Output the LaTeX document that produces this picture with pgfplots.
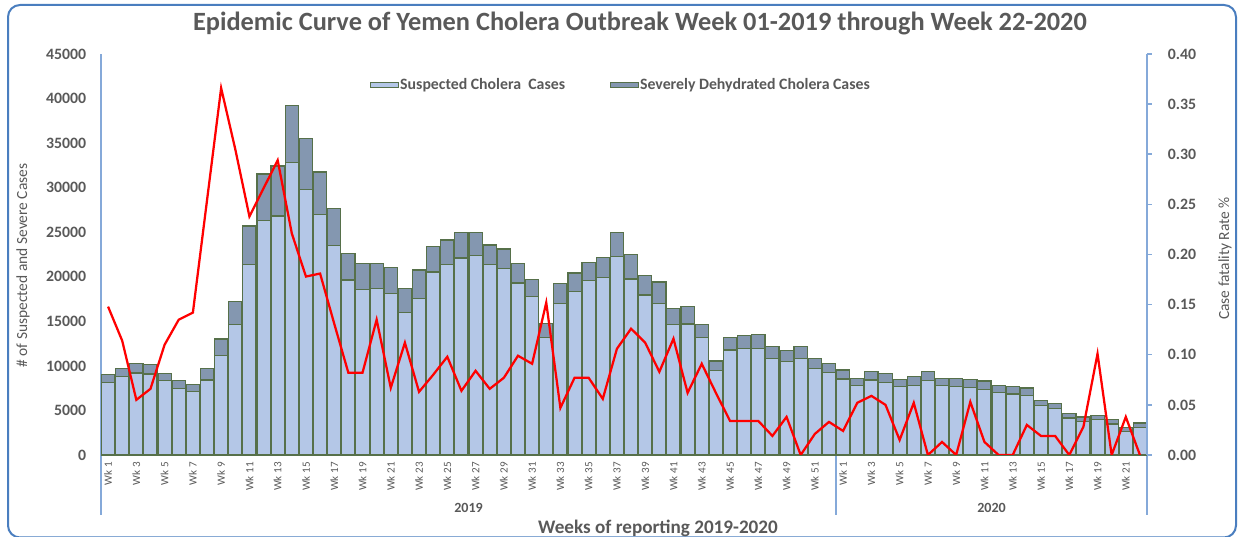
\documentclass[border=0pt]{standalone}
\usepackage{fontspec}
\setmainfont{Carlito}
\usepackage{pgfplots}
\usepackage{pgfplotstable}
\pgfplotsset{compat=1.18}

\definecolor{suspfill}{HTML}{B4C7E7}
\definecolor{sevfill}{HTML}{8497B0}
\definecolor{edge}{HTML}{56704A}
\definecolor{axblue}{HTML}{85A9D9}
\definecolor{frameblue}{HTML}{4A7EBF}
\definecolor{txt}{HTML}{595959}

\pgfplotsset{swatch legend/.style={legend image code/.code={%
  \draw[##1, line width=0.2mm] (0mm,-0.5mm) rectangle (5.6mm,0.5mm);}}}

% week index (1-52 = 2019, 53-74 = 2020), suspected, severe, CFR
\pgfplotstableread{
wk susp sev cfr
1 8160 850 0.148
2 8790 940 0.114
3 9200 1050 0.055
4 9090 1080 0.066
5 8340 830 0.110
6 7480 900 0.135
7 7100 830 0.142
8 8420 1270 0.254
9 11180 1840 0.366
10 14660 2540 0.305
11 21400 4300 0.238
12 26300 5230 0.266
13 26820 5610 0.294
14 32800 6400 0.221
15 29800 5740 0.178
16 26970 4790 0.181
17 23490 4190 0.131
18 19640 2990 0.082
19 18550 2950 0.082
20 18670 2830 0.135
21 18100 2920 0.067
22 16000 2700 0.112
23 17550 3210 0.063
24 20540 2880 0.080
25 21400 2730 0.098
26 22100 2890 0.064
27 22400 2590 0.084
28 21400 2170 0.066
29 20950 2170 0.077
30 19300 2170 0.099
31 17810 1900 0.091
32 13170 1610 0.152
33 17020 2210 0.047
34 18370 2050 0.077
35 19600 2020 0.077
36 19900 2280 0.056
37 22300 2690 0.106
38 19750 2730 0.126
39 17960 2200 0.112
40 17020 2390 0.083
41 14630 1830 0.116
42 14700 1950 0.062
43 13200 1460 0.091
44 9500 1050 0.062
45 11780 1420 0.034
46 11970 1460 0.034
47 11970 1530 0.034
48 10850 1300 0.019
49 10470 1230 0.038
50 10850 1300 0.000
51 9730 1080 0.021
52 9240 1050 0.033
53 8530 1010 0.024
54 7780 820 0.052
55 8420 930 0.059
56 8160 1010 0.050
57 7670 820 0.015
58 7780 1010 0.052
59 8340 1010 0.000
60 7780 820 0.013
61 7670 900 0.000
62 7560 930 0.053
63 7370 930 0.013
64 6990 830 0.000
65 6850 820 0.000
66 6700 820 0.030
67 5580 560 0.019
68 5240 560 0.019
69 4150 490 0.000
70 3780 480 0.028
71 4000 450 0.101
72 3480 520 0.000
73 2660 410 0.038
74 3100 490 0.000
}\cholera

\begin{document}
\begin{tikzpicture}
\useasboundingbox (0,0) rectangle (247.8mm,107.4mm);
\draw[frameblue, line width=0.4mm, rounded corners=2.4mm] (1.6mm,-0.1mm) rectangle (247.2mm,106.4mm);

\begin{axis}[
  at={(20.2mm,16.4mm)}, anchor=south west,
  scale only axis, width=209.2mm, height=80.2mm,
  xmin=0.5, xmax=74.5, ymin=0, ymax=45000,
  ybar stacked, bar width=0.94,
  axis lines*=left, axis line style={draw=axblue, line width=0.3mm, -},
  ytick={0,5000,...,45000},
  xtick={1,3,...,51,53,55,...,73},
  xticklabels={Wk 1,Wk 3,Wk 5,Wk 7,Wk 9,Wk 11,Wk 13,Wk 15,Wk 17,Wk 19,Wk 21,Wk 23,Wk 25,Wk 27,Wk 29,Wk 31,Wk 33,Wk 35,Wk 37,Wk 39,Wk 41,Wk 43,Wk 45,Wk 47,Wk 49,Wk 51,
    Wk 1,Wk 3,Wk 5,Wk 7,Wk 9,Wk 11,Wk 13,Wk 15,Wk 17,Wk 19,Wk 21},
  major tick length=0,
  xticklabel style={rotate=90, anchor=east, font=\fontsize{6.3}{7}\selectfont, text=txt, inner sep=0pt},
  xticklabel shift=1.4mm,
  yticklabel style={anchor=east, font=\fontsize{9}{10}\selectfont\bfseries, text=txt, inner sep=0pt},
  yticklabel shift=2.9mm,
  scaled y ticks=false,
  /pgf/number format/1000 sep={},
  /pgf/number format/assume math mode=true,
  clip=false,
  legend columns=2,
  legend style={at={(0.4967,0.9227)}, anchor=center, draw=none, fill=none,
    font=\fontsize{9}{10}\selectfont\bfseries, text=txt, inner sep=0pt,
    nodes={inner sep=0.3mm},
    /tikz/every even column/.append style={column sep=8.6mm}},
]
\addplot[fill=suspfill, draw=edge, line width=0.25mm, swatch legend]
  table[x=wk, y=susp]{\cholera};
\addlegendentry{Suspected Cholera\ \ Cases}
\addplot[fill=sevfill, draw=edge, line width=0.25mm, swatch legend]
  table[x=wk, y=sev]{\cholera};
\addlegendentry{Severely Dehydrated Cholera Cases}
\draw[axblue, line width=0.3mm] (axis cs:0.5,0) -- ([yshift=-12mm]axis cs:0.5,0);
\draw[axblue, line width=0.3mm] (axis cs:52.5,0) -- ([yshift=-12mm]axis cs:52.5,0);
\draw[axblue, line width=0.3mm] (axis cs:74.5,0) -- ([yshift=-12mm]axis cs:74.5,0);
\end{axis}

\begin{axis}[
  at={(20.2mm,16.4mm)}, anchor=south west,
  scale only axis, width=209.2mm, height=80.2mm,
  xmin=0.5, xmax=74.5, ymin=0, ymax=0.4,
  axis y line*=right, axis x line=none,
  axis line style={draw=axblue, line width=0.3mm, -},
  xtick=\empty,
  ytick={0,0.05,0.1,0.15,0.2,0.25,0.3,0.35,0.4},
  tick align=outside, major tick length=0.9mm,
  ytick style={draw=axblue, line width=0.3mm},
  yticklabel style={anchor=west, font=\fontsize{9}{10}\selectfont\bfseries, text=txt, inner sep=0pt,
    /pgf/number format/.cd, fixed, fixed zerofill, precision=2},
  yticklabel shift=3.2mm,
  /pgf/number format/assume math mode=true,
]
\addplot[draw=red, line width=0.45mm, no markers] table[x=wk, y=cfr]{\cholera};
\end{axis}

\node[font=\fontsize{15}{17}\selectfont\bfseries, text=txt] at (128mm,102.8mm)
  {Epidemic Curve of Yemen Cholera Outbreak Week 01-2019 through Week 22-2020};
\node[rotate=90, font=\fontsize{8.8}{10}\selectfont, text=txt] at (4.6mm,54.3mm)
  {\# of Suspected and Severe Cases};
\node[rotate=90, font=\fontsize{8.8}{10}\selectfont, text=txt] at (245mm,55.7mm)
  {Case fatality Rate \%};
\node[font=\fontsize{8}{9}\selectfont\bfseries, text=txt] at (93.7mm,5.8mm) {2019};
\node[font=\fontsize{8}{9}\selectfont\bfseries, text=txt] at (198.3mm,5.8mm) {2020};
\node[anchor=base, font=\fontsize{10.9}{12}\selectfont\bfseries, text=txt] at (131.6mm,0.7mm)
  {Weeks of reporting 2019-2020};
\end{tikzpicture}
\end{document}
